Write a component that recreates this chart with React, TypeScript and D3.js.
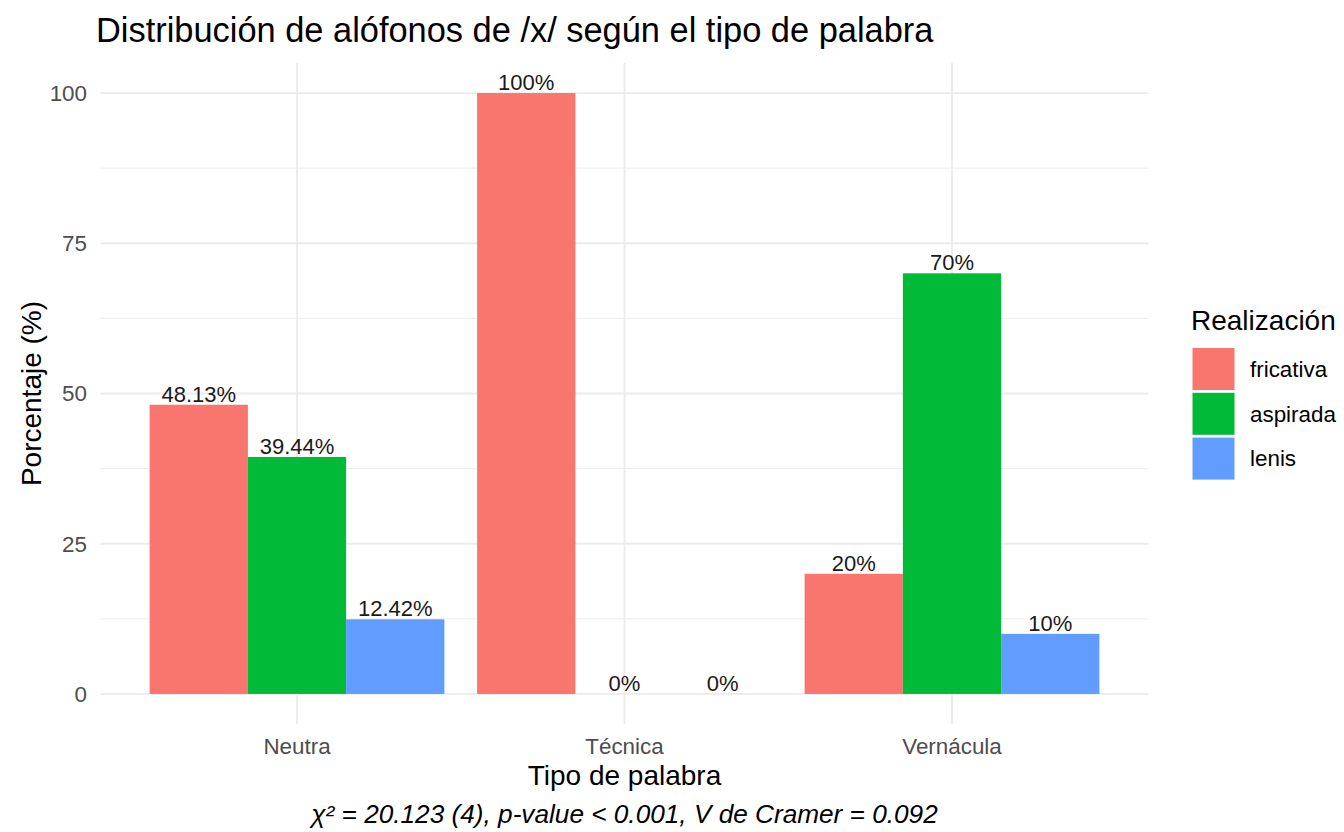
import React from "react";
import * as d3 from "d3";

const categories = ["Neutra", "Técnica", "Vernácula"];
const series = ["fricativa", "aspirada", "lenis"];
const fricativa = [48.13, 100, 20];
const aspirada = [39.44, 0, 70];
const lenis = [12.42, 0, 10];
const labels = [
  ["48.13%", "39.44%", "12.42%"],
  ["100%", "0%", "0%"],
  ["20%", "70%", "10%"],
];
const yTicks = [0, 25, 50, 75, 100];
const yMinor = [12.5, 37.5, 62.5, 87.5];
const colors = ["#F8766D", "#00BA38", "#619CFF"];

const W = 1344;
const H = 832;
const FONT = "'Liberation Sans', Arial, Helvetica, sans-serif";

export default function App() {
  const panel = { left: 100.5, right: 1148.5, top: 63, bottom: 724 };
  const values = [fricativa, aspirada, lenis];

  const x = d3
    .scaleBand<string>()
    .domain(categories)
    .range([panel.left, panel.right])
    .paddingInner(0.1)
    .paddingOuter(0.15);
  const xs = d3.scaleBand<string>().domain(series).range([0, x.bandwidth()]).padding(0);
  const y = d3.scaleLinear().domain([-5, 105]).range([panel.bottom, panel.top]);

  const grid = "#ebebeb";

  return (
    <svg width={W} height={H} style={{ position: "absolute", left: 0, top: 0, background: "#fff" }} fontFamily={FONT}>
      <rect x={0} y={0} width={W} height={H} fill="#fff" />
      {yMinor.map((t) => (
        <line key={"mn" + t} x1={panel.left} x2={panel.right} y1={y(t)} y2={y(t)} stroke={grid} strokeWidth={0.9} />
      ))}
      {yTicks.map((t) => (
        <line key={"mj" + t} x1={panel.left} x2={panel.right} y1={y(t)} y2={y(t)} stroke={grid} strokeWidth={1.8} />
      ))}
      {categories.map((c) => {
        const cx = (x(c) as number) + x.bandwidth() / 2;
        return <line key={"vg" + c} x1={cx} x2={cx} y1={panel.top} y2={panel.bottom} stroke={grid} strokeWidth={1.8} />;
      })}
      {categories.map((c, ci) =>
        series.map((s, si) => {
          const v = values[si][ci];
          const bx = (x(c) as number) + (xs(s) as number);
          return (
            <rect key={c + s} x={bx} y={y(v)} width={xs.bandwidth()} height={y(0) - y(v)} fill={colors[si]} />
          );
        })
      )}
      {categories.map((c, ci) =>
        series.map((s, si) => {
          const v = values[si][ci];
          const bx = (x(c) as number) + (xs(s) as number) + xs.bandwidth() / 2;
          return (
            <text key={"l" + c + s} x={bx} y={y(v) - 3} textAnchor="middle" fontSize={22} fill="#1a1a1a">
              {labels[ci][si]}
            </text>
          );
        })
      )}
      {yTicks.map((t) => (
        <text key={"yt" + t} x={87} y={y(t)} dy="0.35em" textAnchor="end" fontSize={22.4} fill="#4d4d4d">
          {t}
        </text>
      ))}
      {categories.map((c) => (
        <text key={"xt" + c} x={(x(c) as number) + x.bandwidth() / 2} y={754} textAnchor="middle" fontSize={22.4} fill="#4d4d4d">
          {c}
        </text>
      ))}
      <text x={(panel.left + panel.right) / 2} y={785} textAnchor="middle" fontSize={28} fill="#000">
        Tipo de palabra
      </text>
      <text
        transform={`translate(41,${(panel.top + panel.bottom) / 2}) rotate(-90)`}
        textAnchor="middle"
        fontSize={28}
        fill="#000"
      >
        Porcentaje (%)
      </text>
      <text x={96} y={42} fontSize={34.4} fill="#000">
        Distribución de alófonos de /x/ según el tipo de palabra
      </text>
      <text x={(panel.left + panel.right) / 2} y={823} textAnchor="middle" fontSize={26.2} fontStyle="italic" fill="#000">
        χ² = 20.123 (4), p-value &lt; 0.001, V de Cramer = 0.092
      </text>
      <text x={1191} y={330} fontSize={28} fill="#000">
        Realización
      </text>
      {series.map((s, i) => (
        <g key={"lg" + s}>
          <rect x={1192.5} y={348 + i * 44.8} width={42} height={42} fill={colors[i]} />
          <text x={1250} y={348 + i * 44.8 + 21} dy="0.35em" fontSize={22.4} fill="#000">
            {s}
          </text>
        </g>
      ))}
    </svg>
  );
}
